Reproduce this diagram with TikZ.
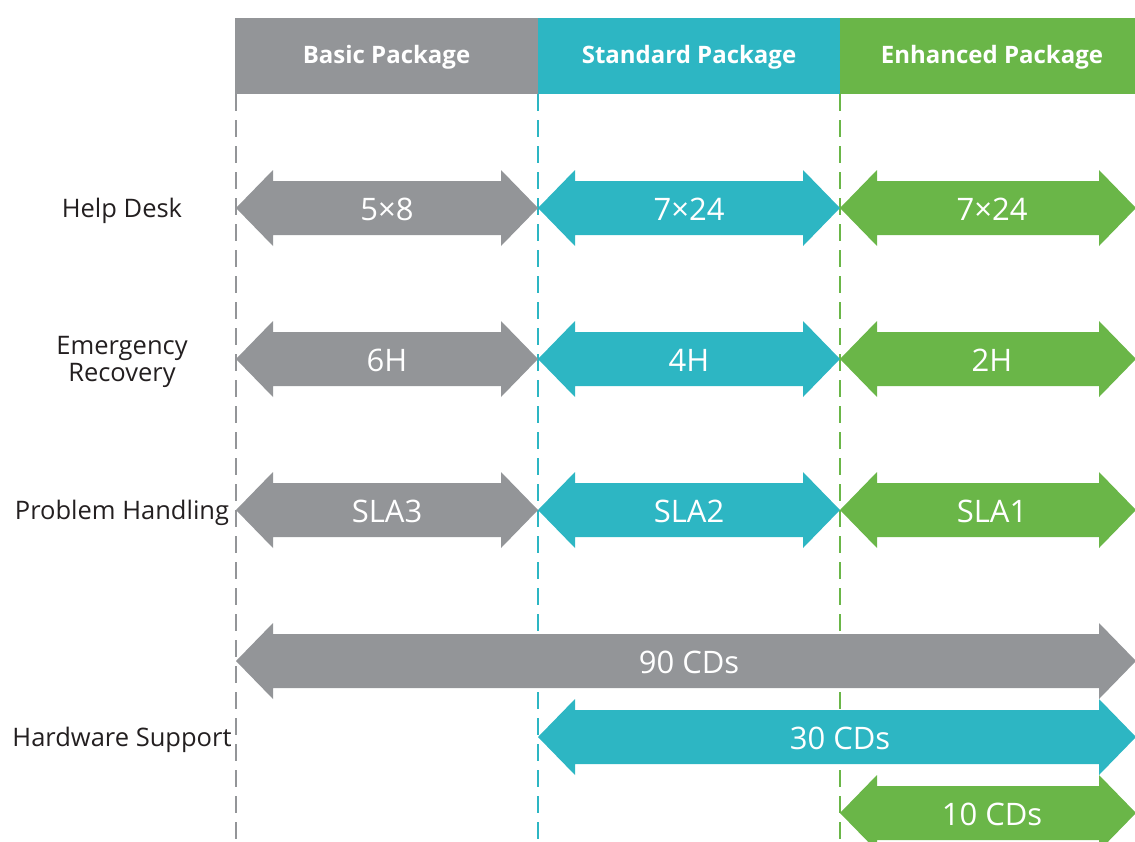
\documentclass[tikz,border=0pt]{standalone}
\usepackage{fontspec}
\setmainfont{Open Sans}
\definecolor{cgray}{HTML}{939598}
\definecolor{cteal}{HTML}{2DB6C3}
\definecolor{cgreen}{HTML}{6AB648}
\definecolor{ctext}{HTML}{231F20}
\tikzset{
  header/.style={fill=#1, draw=none},
  headtext/.style={text=white, font=\bfseries\fontsize{24}{28}\selectfont},
  lanedash/.style={draw=#1, line width=2.6pt, dash pattern=on 17pt off 9pt},
  rowlabel/.style={text=ctext, font=\fontsize{25.5}{27}\selectfont, align=center},
  arrowtext/.style={text=white, font=\fontsize{31}{34}\selectfont},
}
% \dblarr{x1}{x2}{y}{color}
\newcommand{\dblarr}[4]{%
  \fill[#4] (#1,#3) -- ++(37,-38) -- ++(0,11) -- (#2-37,#3-27) -- ++(0,-11) -- (#2,#3)
    -- ++(-37,38) -- ++(0,-11) -- (#1+37,#3+27) -- ++(0,11) -- cycle;}
\begin{document}
\begin{tikzpicture}[x=1pt,y=-1pt]
\useasboundingbox (0,0) rectangle (1135,841);
\clip (0,0) rectangle (1135,841);
% headers
\fill[header=cgray] (235,18) rectangle (538,94);
\fill[header=cteal] (538,18) rectangle (840,94);
\fill[header=cgreen] (840,18) rectangle (1136,94);
\node[headtext] (hb) at (386.5,57) {Basic Package};
\node[headtext] (hs) at (689,57) {Standard Package};
\node[headtext] (he) at (992,57) {Enhanced Package};
% dashed lane lines
\draw[lanedash=cgray] (236,94) -- (236,845);
\draw[lanedash=cteal] (538,94) -- (538,845);
\draw[lanedash=cgreen] (840,94) -- (840,845);
% row labels
\node[rowlabel] (l1) at (122,211) {Help Desk};
\node[rowlabel] (l2) at (122,362) {Emergency\\Recovery};
\node[rowlabel] (l3) at (122,513) {Problem Handling};
\node[rowlabel] (l4) at (122,740) {Hardware Support};
% arrows row 1
\dblarr{236}{538}{208}{cgray}
\dblarr{538}{840}{208}{cteal}
\dblarr{840}{1136}{208}{cgreen}
\node[arrowtext] (a11) at (387,209) {5×8};
\node[arrowtext] (a12) at (689,209) {7×24};
\node[arrowtext] (a13) at (992,209) {7×24};
% row 2
\dblarr{236}{538}{359}{cgray}
\dblarr{538}{840}{359}{cteal}
\dblarr{840}{1136}{359}{cgreen}
\node[arrowtext] (a21) at (387,360) {6H};
\node[arrowtext] (a22) at (689,360) {4H};
\node[arrowtext] (a23) at (992,360) {2H};
% row 3
\dblarr{236}{538}{510}{cgray}
\dblarr{538}{840}{510}{cteal}
\dblarr{840}{1136}{510}{cgreen}
\node[arrowtext] (a31) at (387,511) {SLA3};
\node[arrowtext] (a32) at (689,511) {SLA2};
\node[arrowtext] (a33) at (992,511) {SLA1};
% hardware support
\dblarr{236}{1136}{661}{cgray}
\dblarr{538}{1136}{737}{cteal}
\dblarr{840}{1136}{813}{cgreen}
\node[arrowtext] (a41) at (689,662) {90 CDs};
\node[arrowtext] (a42) at (840,738) {30 CDs};
\node[arrowtext] (a43) at (992,814) {10 CDs};
\end{tikzpicture}
\end{document}
